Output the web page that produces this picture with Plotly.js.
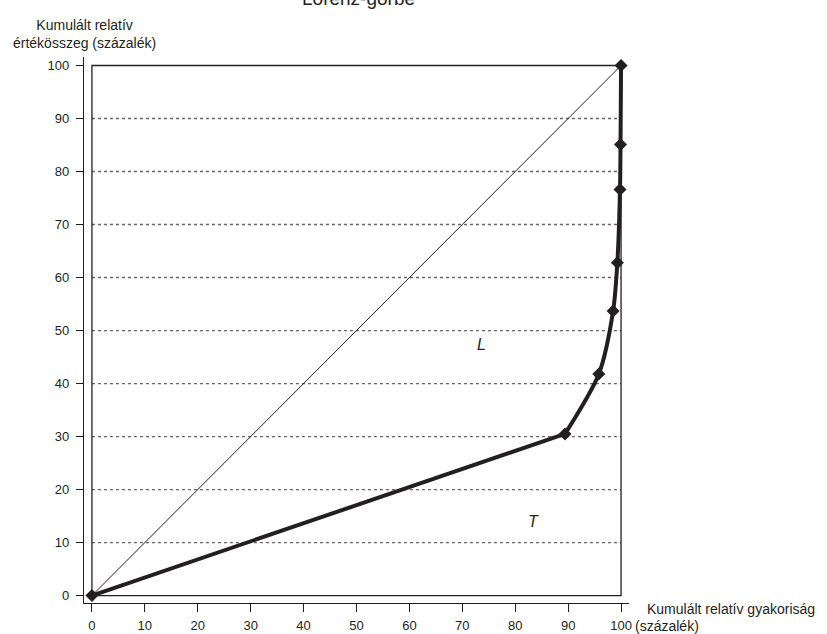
<!DOCTYPE html>
<html>
<head>
<meta charset="utf-8">
<script src="https://cdn.plot.ly/plotly-3.0.1.min.js"></script>
<style>html,body{margin:0;padding:0;background:#fff;}#chart{width:827px;height:634px;}</style>
</head>
<body>
<div id="chart"></div>
<script>
// Lorenz curve points (cumulative relative frequency %, cumulative relative value %)
const lorenzX = [0, 89.4, 95.8, 98.5, 99.3, 99.8, 99.9, 100];
const lorenzY = [0, 30.5, 41.8, 53.7, 62.8, 76.6, 85.1, 100];
// Line of equality
const equalX = [0, 100];
const equalY = [0, 100];
// Axis ticks
const tickValues = [0, 10, 20, 30, 40, 50, 60, 70, 80, 90, 100];
const gridValues = [10, 20, 30, 40, 50, 60, 70, 80, 90];
// Texts
const titleText = "Lorenz-görbe";
const yTitleText = "Kumulált relatív<br>értékösszeg (százalék)";
const xTitleLine1 = "Kumulált relatív gyakoriság";
const xTitleLine2 = "(százalék)";
const areaLabels = [{t: "L", x: 73.7, y: 47.3}, {t: "T", x: 83.4, y: 13.9}];

const ink = "#231f20";
const fontFam = "Liberation Sans, Arial, sans-serif";

const traces = [
  {x: equalX, y: equalY, mode: "lines", line: {color: ink, width: 1}, hoverinfo: "skip"},
  // straight first segment
  {x: lorenzX.slice(0, 2), y: lorenzY.slice(0, 2), mode: "lines",
   line: {color: ink, width: 4}},
  // smoothed upper part
  {x: lorenzX.slice(1), y: lorenzY.slice(1), mode: "lines",
   line: {color: ink, width: 4, shape: "spline", smoothing: 0.8}},
  {x: lorenzX, y: lorenzY, mode: "markers",
   marker: {symbol: "diamond", size: 10, color: ink}}
];

const shapes = gridValues.map(v => ({
  type: "line", xref: "x", yref: "y", x0: 0, x1: 100, y0: v, y1: v,
  line: {color: "#666", width: 1.3, dash: "dot"}, layer: "below"
}));
shapes.push({type: "rect", xref: "x", yref: "y", x0: 0, x1: 100, y0: 0, y1: 100,
  line: {color: ink, width: 1.3}, layer: "below"});

const annotations = [
  {text: titleText, xref: "paper", yref: "paper", x: 0.5, y: 1, xanchor: "center", yanchor: "bottom",
   yshift: 46, xshift: 2, showarrow: false, font: {size: 19, color: ink, family: fontFam}},
  {text: yTitleText, xref: "paper", yref: "paper", x: 0, y: 1, xanchor: "center", yanchor: "bottom",
   yshift: 4, showarrow: false, font: {size: 14, color: ink, family: fontFam}},
  {text: xTitleLine1, xref: "paper", yref: "paper", x: 1, y: 0, xanchor: "left", yanchor: "middle",
   xshift: 16, yshift: -6, showarrow: false, font: {size: 14, color: ink, family: fontFam}},
  {text: xTitleLine2, xref: "paper", yref: "paper", x: 1, y: 0, xanchor: "left", yanchor: "middle",
   xshift: 4, yshift: -23, showarrow: false, font: {size: 14, color: ink, family: fontFam}}
].concat(areaLabels.map(a => ({
  text: "<i>" + a.t + "</i>", x: a.x, y: a.y, xref: "x", yref: "y", showarrow: false,
  font: {size: 16, color: ink, family: fontFam}
})));

const layout = {
  width: 827, height: 634,
  margin: {l: 84, r: 198, t: 57, b: 31, pad: 0},
  paper_bgcolor: "#fff", plot_bgcolor: "#fff",
  showlegend: false,
  font: {family: fontFam, size: 13, color: ink},
  xaxis: {range: [-1.5, 101.5], tickvals: tickValues, ticks: "outside", ticklen: 8, tickcolor: ink,
          showline: true, linecolor: ink, linewidth: 1.2, showgrid: false, zeroline: false,
          fixedrange: true, ticklabelstandoff: 2, tickfont: {size: 13, color: ink}},
  yaxis: {range: [-1.4, 101.6], tickvals: tickValues, ticks: "outside", ticklen: 7, tickcolor: ink,
          showline: true, linecolor: ink, linewidth: 1.2, showgrid: false, zeroline: false,
          fixedrange: true, ticklabelstandoff: 4, tickfont: {size: 13, color: ink}},
  shapes: shapes,
  annotations: annotations
};

Plotly.newPlot("chart", traces, layout, {displayModeBar: false, staticPlot: true});
</script>
</body>
</html>
